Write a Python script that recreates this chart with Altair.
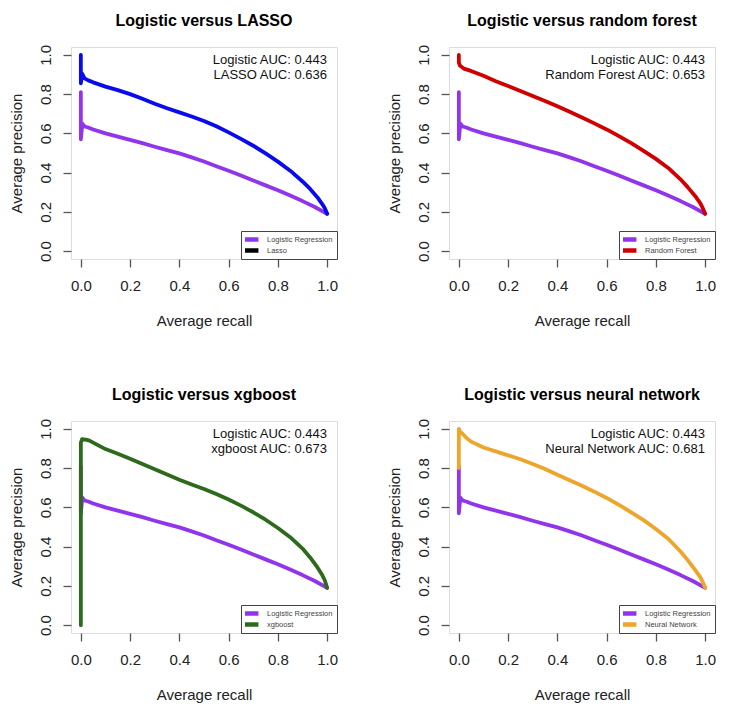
import altair as alt
import pandas as pd

FONT = "Liberation Sans"
TICKS = [0.0, 0.2, 0.4, 0.6, 0.8, 1.0]

# Logistic regression curve (shared by all panels)
LOG_X = [0, 0, 0, 0.006, 0.015, 0.03, 0.05, 0.1, 0.15, 0.2, 0.25, 0.3, 0.35, 0.4, 0.45,
         0.5, 0.55, 0.6, 0.65, 0.7, 0.75, 0.8, 0.85, 0.9, 0.95, 1.0]
LOG_Y = [0.62, 0.81, 0.57, 0.65, 0.635, 0.63, 0.62, 0.60, 0.583, 0.567, 0.55, 0.532, 0.515,
         0.498, 0.478, 0.457, 0.433, 0.41, 0.385, 0.36, 0.335, 0.31, 0.283, 0.255, 0.225, 0.19]
LOG_AUC = "0.443"

LASSO_X = [0, 0, 0, 0.005, 0.015, 0.03, 0.05, 0.1, 0.15, 0.2, 0.25, 0.3, 0.35, 0.4, 0.45, 0.5,
           0.55, 0.6, 0.65, 0.7, 0.75, 0.8, 0.85, 0.9, 0.93, 0.96, 0.98, 0.99, 1.0]
LASSO_Y = [0.88, 1.0, 0.855, 0.905, 0.88, 0.87, 0.86, 0.838, 0.82, 0.80, 0.776, 0.751, 0.728,
           0.707, 0.686, 0.663, 0.636, 0.605, 0.572, 0.537, 0.498, 0.456, 0.41, 0.355, 0.318,
           0.275, 0.24, 0.22, 0.19]

RF_X = [0, 0, 0.005, 0.01, 0.02, 0.04, 0.06, 0.1, 0.15, 0.2, 0.25, 0.3, 0.35, 0.4, 0.45, 0.5,
        0.55, 0.6, 0.65, 0.7, 0.75, 0.8, 0.85, 0.9, 0.93, 0.96, 0.98, 0.99, 1.0]
RF_Y = [1.0, 0.96, 0.945, 0.94, 0.93, 0.922, 0.913, 0.893, 0.866, 0.841, 0.816, 0.79, 0.765,
        0.738, 0.71, 0.681, 0.651, 0.62, 0.586, 0.55, 0.511, 0.47, 0.424, 0.366, 0.325, 0.28,
        0.245, 0.22, 0.19]

XGB_X = [0, 0, 0.005, 0.02, 0.035, 0.05, 0.1, 0.15, 0.2, 0.25, 0.3, 0.35, 0.4, 0.45, 0.5,
         0.55, 0.6, 0.65, 0.7, 0.75, 0.8, 0.85, 0.9, 0.93, 0.96, 0.98, 0.99, 1.0]
XGB_Y = [0.0, 0.93, 0.947, 0.945, 0.94, 0.93, 0.897, 0.873, 0.848, 0.821, 0.794, 0.767, 0.741,
         0.717, 0.694, 0.668, 0.64, 0.609, 0.575, 0.537, 0.495, 0.448, 0.39, 0.346, 0.295,
         0.255, 0.23, 0.19]

NN_X = [0, 0, 0.005, 0.015, 0.03, 0.05, 0.1, 0.15, 0.2, 0.25, 0.3, 0.35, 0.4, 0.45, 0.5, 0.55,
        0.6, 0.65, 0.7, 0.75, 0.8, 0.85, 0.9, 0.93, 0.96, 0.98, 0.99, 1.0]
NN_Y = [0.80, 1.0, 0.985, 0.975, 0.955, 0.935, 0.905, 0.885, 0.865, 0.845, 0.821, 0.795,
        0.766, 0.738, 0.71, 0.68, 0.648, 0.613, 0.575, 0.535, 0.49, 0.44, 0.375, 0.33, 0.28,
        0.245, 0.22, 0.19]

TITLES = ["Logistic versus LASSO", "Logistic versus random forest",
          "Logistic versus xgboost", "Logistic versus neural network"]
MODEL_NAMES = ["LASSO", "Random Forest", "xgboost", "Neural Network"]
MODEL_AUCS = ["0.636", "0.653", "0.673", "0.681"]
LEGEND_NAMES = ["Lasso", "Random Forest", "xgboost", "Neural Network"]
LINE_COLORS = ["#0A0AEE", "#D00000", "#2E6A1C", "#EDA52C"]
LEGEND_COLORS = ["#000000", "#D00000", "#2E6A1C", "#EDA52C"]
PURPLE = "#9135EC"
CURVES = [(LASSO_X, LASSO_Y), (RF_X, RF_Y), (XGB_X, XGB_Y), (NN_X, NN_Y)]

W, H = 266, 212

xaxis = alt.Axis(values=TICKS, format=".1f", title="Average recall", tickSize=8,
                 labelPadding=11, labelFontSize=15, titleFontSize=15,
                 titleFontWeight="normal", titlePadding=20, domain=False, grid=False,
                 tickColor="#555", tickWidth=1.3, labelColor="#222", titleColor="#222",
                 labelFont=FONT, titleFont=FONT, labelFlush=False, labelOverlap=False)
yaxis = alt.Axis(values=TICKS, format=".1f", title="Average precision", tickSize=8,
                 labelPadding=10, labelAngle=270, labelAlign="center", labelBaseline="bottom",
                 labelFontSize=15, titleFontSize=15, titleFontWeight="normal",
                 titlePadding=14, domain=False, grid=False, tickColor="#555", tickWidth=1.3,
                 labelColor="#222", titleColor="#222", labelFont=FONT, titleFont=FONT,
                 labelFlush=False, labelOverlap=False)

xs = alt.Scale(domain=[-0.04, 1.04], nice=False, zero=False)
ys = alt.Scale(domain=[-0.04, 1.04], nice=False, zero=False)


def panel(k):
    mx, my = CURVES[k]
    log_df = pd.DataFrame({"recall": LOG_X, "precision": LOG_Y, "i": list(range(len(LOG_X)))})
    mod_df = pd.DataFrame({"recall": mx, "precision": my, "i": list(range(len(mx)))})
    x = alt.X("recall:Q", scale=xs, axis=xaxis)
    y = alt.Y("precision:Q", scale=ys, axis=yaxis)
    l1 = alt.Chart(log_df).mark_line(color=PURPLE, strokeWidth=3.8, strokeJoin="round",
                                     strokeCap="round").encode(x=x, y=y, order="i:Q")
    l2 = alt.Chart(mod_df).mark_line(color=LINE_COLORS[k], strokeWidth=3.8, strokeJoin="round",
                                     strokeCap="round").encode(x=x, y=y, order="i:Q")
    auc_df = pd.DataFrame({"label": [f"Logistic AUC: {LOG_AUC}\n{MODEL_NAMES[k]} AUC: {MODEL_AUCS[k]}"]})
    txt = alt.Chart(auc_df).mark_text(align="right", baseline="top", fontSize=13, font=FONT,
                                      color="#111", lineBreak="\n", lineHeight=14.5).encode(
        x=alt.value(W - 10), y=alt.value(7), text="label:N")
    leg_df = pd.DataFrame({"series": ["Logistic Regression", LEGEND_NAMES[k]]})
    leg = alt.Chart(leg_df).transform_filter("datum.series == '__none__'").mark_line().encode(
        x=alt.value(0), y=alt.value(0),
        color=alt.Color("series:N",
                        scale=alt.Scale(domain=["Logistic Regression", LEGEND_NAMES[k]],
                                        range=[PURPLE, LEGEND_COLORS[k]]),
                        legend=alt.Legend(title=None, orient="bottom-right", offset=0,
                                          padding=4, strokeColor="#444", fillColor="white",
                                          symbolType="M-4,0H4", symbolStrokeWidth=4.5,
                                          symbolSize=20, labelFontSize=7.5, labelFont=FONT,
                                          labelColor="#444", rowPadding=2, labelOffset=13,
                                          clipHeight=9, labelLimit=200)))
    return alt.layer(l1, l2, txt, leg).properties(
        width=W, height=H,
        title=alt.TitleParams(TITLES[k], anchor="middle", fontSize=16, fontWeight="bold",
                              font=FONT, color="#000", offset=15))


row1 = alt.hconcat(panel(0), panel(1), spacing=47).resolve_scale(color="independent")
row2 = alt.hconcat(panel(2), panel(3), spacing=47).resolve_scale(color="independent")
chart = alt.vconcat(row1, row2, spacing=57).resolve_scale(color="independent").properties(
    padding={"left": 0, "top": 4, "right": 0, "bottom": 0}
).configure_view(stroke="#555", strokeWidth=1.4).configure(background="white")

chart.save("out.html", embed_options={"renderer": "svg", "actions": False})
